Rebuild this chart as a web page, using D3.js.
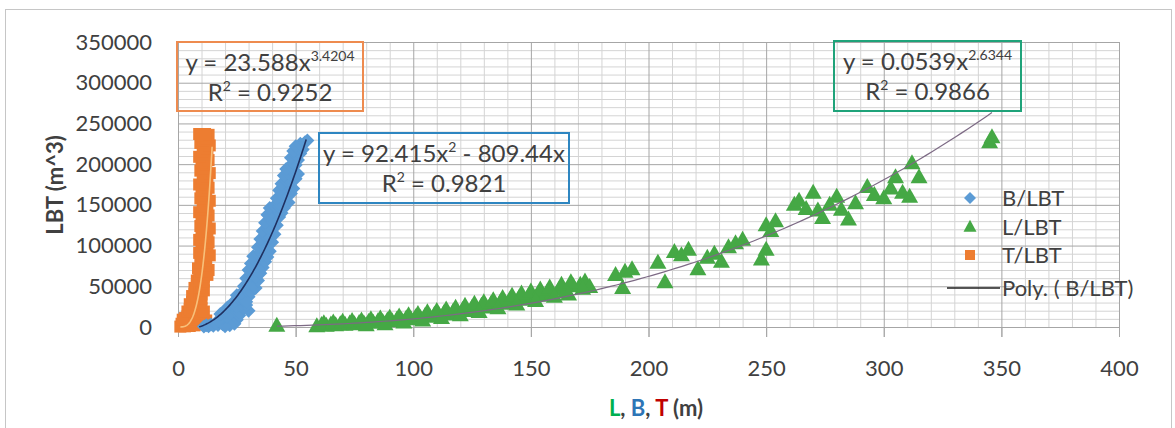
<!DOCTYPE html>
<html>
<head>
<meta charset="utf-8">
<script src="https://cdn.jsdelivr.net/npm/d3@7"></script>
<style>
  html, body { margin: 0; padding: 0; background: #fff; }
  svg { display: block; font-family: Lato, "Open Sans", sans-serif; }
</style>
</head>
<body>
<svg id="chart" width="1175" height="428"></svg>
<script>
// Axis ticks
const xTicks = [0, 50, 100, 150, 200, 250, 300, 350, 400];
const yTicks = [0, 50000, 100000, 150000, 200000, 250000, 300000, 350000];

// Legend entries
const legendNames = ["B/LBT", "L/LBT", "T/LBT", "Poly. ( B/LBT)"];

// Beam B (m) vs LBT (m^3)
const beamPoints = [
  [11,500],[12,2000],[13,800],[14,3000],[15,1500],[16,4500],[17,2500],[18,6000],[19,3500],
  [20,8000],[21,5000],[22,10000],[23,7000],[24,12000],[25,9000],[24,4000],[22,2000],[20,1000],
  [26,14000],[19,11000],[17,8000],[21,13000],
  [18,16000],[20,19000],[22,17000],[24,21000],[26,18000],[28,23000],[30,20000],[21,24000],
  [23,27000],[25,25000],[27,29000],[29,27000],[24,32000],[26,35000],[28,33000],[30,37000],
  [25,39000],[27,38000],[29,31000],
  [27,42000],[29,45000],[31,43000],[33,48000],[28,50000],[30,54000],[32,52000],[34,57000],
  [29,60000],[31,63000],[33,61000],[35,66000],[30,70000],[32,72000],[34,75000],[36,73000],
  [31,78000],[33,81000],[35,84000],[37,80000],[32,87000],[34,89000],[36,88000],[38,86000],
  [35,92000],[37,95000],[39,93000],[34,98000],[36,102000],[38,100000],[40,104000],[35,108000],
  [37,112000],[39,110000],[41,114000],[36,118000],[38,122000],[40,120000],[42,125000],[37,128000],
  [39,132000],[41,130000],[43,135000],[38,138000],[40,141000],[42,143000],[44,140000],[39,146000],
  [41,149000],[43,148000],[45,146000],
  [43,152000],[45,155000],[47,153000],[42,158000],[44,162000],[46,160000],[48,164000],[43,168000],
  [45,171000],[47,173000],[49,170000],[44,176000],[46,180000],[48,178000],[50,182000],[45,186000],
  [47,189000],[49,191000],[51,188000],[46,194000],[48,197000],[50,199000],
  [49,202000],[51,205000],[48,208000],[50,211000],[52,213000],[49,216000],[51,219000],[53,218000],
  [50,222000],[52,225000],[54,227000],[55,229000]
];

// Length L (m) vs LBT (m^3)
const lengthPoints = [
  [42,1500],[59,800],[61,2500],[63,1500],[65,3000],[67,2000],[69,3500],[71,2800],[73,4200],
  [75,3500],[77,5000],[79,4200],[81,6000],[83,5200],[85,7000],[87,6000],[89,8000],[91,7200],
  [93,9000],[95,8200],[97,10500],[99,9500],[101,12000],[103,11000],[105,13500],[107,12500],
  [109,15000],[111,14000],[113,17000],[115,15500],[117,19000],[119,17500],[121,21000],[123,19500],
  [125,23500],[127,21500],[129,26000],[131,24000],[133,28000],[135,26000],[137,30500],[139,28500],
  [141,33000],[143,31000],[145,35500],[147,33500],[149,38000],[151,36000],[153,40500],[155,38500],
  [157,43000],[159,41000],[162,46000],[165,44000],[168,50000],[171,52000],[173,56000],[175,49000],
  [62,4500],[66,5500],[70,6500],[74,7500],[78,8000],[82,9500],[86,10500],[90,11500],[94,13000],
  [98,14500],[102,16000],[106,18000],[110,19500],[114,21500],[118,23500],[122,26000],[126,28500],
  [130,30500],[134,33000],[138,35500],[142,38500],[146,41000],[150,43500],[154,46000],[158,48500],
  [163,52000],[167,55000],
  [80,2000],[88,3500],[96,5500],[104,8000],[112,11000],[120,14500],[128,18500],[136,23000],
  [144,27500],[152,32000],[160,37000],[166,40000],[172,47000],
  [186,64000],[189,48000],[190,68000],[193,71000],[204,79000],[207,55000],[211,92000],[214,88000],
  [217,95000],[221,71000],[225,85000],[228,90000],[231,80000],[234,98000],[237,103000],[240,107000],
  [248,83000],[250,95000],[250,125000],[252,118000],[254,130000],[262,150000],[264,155000],
  [267,145000],[270,165000],[272,143000],[274,134000],[277,150000],[280,160000],[282,144000],
  [285,132000],[288,152000],[293,172000],[296,162000],[300,158000],[303,170000],[305,184000],
  [308,165000],[311,160000],[312,201000],[315,184000],[345,227000],[346,233000]
];

// Draft T (m) vs LBT (m^3)
const draftPoints = [
  [1.0,500],[2.0,1500],[3.0,800],[4.0,2500],[5.0,1200],[6.0,3500],[7.0,2000],[8.0,4500],
  [9.0,3000],[10.0,6000],[11.0,4000],[12.0,8000],[1.5,4000],[2.5,6000],[3.5,5000],[4.5,8000],
  [5.5,7000],[6.5,10000],[7.5,9000],[8.5,12000],[9.5,11000],[10.5,14000],[3.0,11000],[4.0,13000],
  [5.0,15000],[6.0,16000],[7.0,14000],[8.0,17000],[2.0,9000],
  [4.0,19000],[5.0,22000],[6.0,20000],[7.0,24000],[8.0,21000],[9.0,26000],[10.0,23000],[11.0,19000],
  [5.0,28000],[6.0,31000],[7.0,29000],[8.0,33000],[9.0,30000],[10.0,35000],[6.0,38000],[7.0,41000],
  [8.0,39000],[9.0,43000],[10.0,40000],[11.0,45000],[7.0,48000],[8.0,51000],[9.0,49000],
  [10.0,53000],[11.0,56000],[8.0,57000],
  [9.0,60000],[11.0,62000],[12.5,64000],[10.0,68000],[13.0,70000],[8.5,72000],[11.5,75000],
  [9.5,79000],[12.0,82000],[10.5,85000],[13.5,88000],[9.0,91000],[11.0,94000],[12.5,97000],
  [10.0,100000],[13.0,104000],[9.0,107000],[11.5,110000],[10.0,114000],[12.5,117000],[13.5,121000],
  [9.5,124000],[11.0,127000],[12.0,131000],[10.0,134000],[13.0,137000],[9.0,141000],[11.5,144000],
  [10.5,148000],[12.5,151000],[13.5,155000],[9.5,158000],[11.0,161000],[12.0,165000],[10.0,168000],
  [13.0,171000],[9.0,175000],[11.5,178000],[10.5,182000],[12.5,185000],[13.5,189000],[9.5,192000],
  [11.0,195000],[12.0,199000],[10.0,202000],[13.0,205000],[9.0,209000],[11.5,212000],[10.5,216000],
  [12.5,219000],[13.5,223000],[9.5,226000],[11.0,229000],[12.0,232000],[10.0,235000],[13.0,236000],
  [9.0,237000],[11.5,237000]
];

// Fitted trendlines, as printed in the equation labels
const polyB = { a: 92.415, b: -809.44, r2: "0.9821", from: 9, to: 54.5 };
const powerL = { a: 0.0539, k: 2.6344, r2: "0.9866", from: 42, to: 346 };
const powerT = { a: 23.588, k: 3.4204, r2: "0.9252", from: 1, to: 14.5 };

const colors = { beam: "#5b9bd5", length: "#45a845", draft: "#ed7d31" };

const svg = d3.select("#chart");
const W = 1175, H = 428;
const plot = { left: 178, right: 1119, top: 42, bottom: 327 };

const x = d3.scaleLinear().domain([0, 400]).range([plot.left, plot.right]);
const y = d3.scaleLinear().domain([0, 350000]).range([plot.bottom, plot.top]);

svg.append("rect").attr("width", W).attr("height", H).attr("fill", "#fff");
svg.append("rect")
  .attr("x", 5.5).attr("y", 9.5).attr("width", 1166).attr("height", 440)
  .attr("fill", "none").attr("stroke", "#c6c6c6");

// Minor and major gridlines
const minorX = d3.range(0, 401, 10).filter(v => v % 50 !== 0);
const minorY = d3.range(0, 350001, 10000).filter(v => v % 50000 !== 0);
const plotH = plot.bottom - plot.top;
const plotW = plot.right - plot.left;

function gridStyle(g, color) {
  g.select(".domain").remove();
  g.selectAll("line").attr("stroke", color).attr("stroke-width", 1);
  g.selectAll("text").remove();
}
svg.append("g").attr("transform", `translate(0,${plot.bottom})`)
  .call(d3.axisBottom(x).tickValues(minorX).tickSize(-plotH).tickFormat(""))
  .call(g => gridStyle(g, "#d4d4d4"));
svg.append("g").attr("transform", `translate(${plot.left},0)`)
  .call(d3.axisLeft(y).tickValues(minorY).tickSize(-plotW).tickFormat(""))
  .call(g => gridStyle(g, "#d4d4d4"));
svg.append("g").attr("transform", `translate(${plot.left},0)`)
  .call(d3.axisLeft(y).tickValues(yTicks).tickSize(-plotW).tickFormat(""))
  .call(g => gridStyle(g, "#a6a6a6"));
svg.append("g").attr("transform", `translate(0,${plot.top})`)
  .call(d3.axisBottom(x).tickValues(xTicks).tickSize(plotH + 10).tickFormat(""))
  .call(g => gridStyle(g, "#a6a6a6"));

// Axes with labels
const xAxis = svg.append("g").attr("transform", `translate(0,${plot.bottom})`)
  .call(d3.axisBottom(x).tickValues(xTicks).tickSize(10).tickSizeOuter(0).tickPadding(23).tickFormat(d3.format("d")));
xAxis.select(".domain").attr("stroke", "#a6a6a6");
xAxis.selectAll("line").attr("stroke", "#a6a6a6");
xAxis.selectAll("text").attr("font-size", 22).attr("fill", "#404040").attr("font-family", "Lato, sans-serif");

const yAxis = svg.append("g").attr("transform", `translate(${plot.left},0)`)
  .call(d3.axisLeft(y).tickValues(yTicks).tickSize(0).tickPadding(26).tickFormat(d3.format("d")));
yAxis.select(".domain").attr("stroke", "#a6a6a6");
yAxis.selectAll("text").attr("font-size", 22).attr("fill", "#404040").attr("font-family", "Lato, sans-serif");

// Marker shapes
const diamond = s => `M0,${-s}L${s},0L0,${s}L${-s},0Z`;
const triangle = (w, h) => `M0,${-h * 0.6}L${w / 2},${h * 0.4}L${-w / 2},${h * 0.4}Z`;
const square = s => `M${-s},${-s}H${s}V${s}H${-s}Z`;

// Data series
svg.append("g").selectAll("path").data(draftPoints).join("path")
  .attr("d", square(6)).attr("fill", colors.draft)
  .attr("transform", d => `translate(${x(d[0])},${y(d[1])})`);
svg.append("g").selectAll("path").data(beamPoints).join("path")
  .attr("d", diamond(7)).attr("fill", colors.beam)
  .attr("transform", d => `translate(${x(d[0])},${y(d[1])})`);
svg.append("g").selectAll("path").data(lengthPoints).join("path")
  .attr("d", triangle(17, 15)).attr("fill", colors.length)
  .attr("transform", d => `translate(${x(d[0])},${y(d[1])})`);

// Trendlines
const line = d3.line().x(d => x(d[0])).y(d => y(d[1]));
function curve(fn, from, to, n) {
  return d3.range(n + 1).map(i => { const v = from + (to - from) * i / n; return [v, fn(v)]; });
}
svg.append("path")
  .attr("d", line(curve(v => powerT.a * Math.pow(v, powerT.k), powerT.from, powerT.to, 80)))
  .attr("fill", "none").attr("stroke", "#f8c07a").attr("stroke-width", 1.6);
svg.append("path")
  .attr("d", line(curve(v => powerL.a * Math.pow(v, powerL.k), powerL.from, powerL.to, 120)))
  .attr("fill", "none").attr("stroke", "#7d6a85").attr("stroke-width", 1.2);
svg.append("path")
  .attr("d", line(curve(v => polyB.a * v * v + polyB.b * v, polyB.from, polyB.to, 80)))
  .attr("fill", "none").attr("stroke", "#1f3060").attr("stroke-width", 1.6);

// Equation labels
function eqBox(box, color, line1, sup, tail, r2) {
  const g = svg.append("g");
  g.append("rect").attr("x", box[0]).attr("y", box[1]).attr("width", box[2]).attr("height", box[3])
    .attr("fill", "none").attr("stroke", color).attr("stroke-width", 2);
  const cx = box[0] + box[2] / 2;
  const t1 = g.append("text").attr("x", cx).attr("y", box[1] + 29).attr("text-anchor", "middle")
    .attr("font-size", 24).attr("fill", "#404040");
  t1.append("tspan").text(line1);
  t1.append("tspan").attr("font-size", 14).attr("dy", -10).text(sup);
  if (tail) t1.append("tspan").attr("dy", 10).text(tail);
  const t2 = g.append("text").attr("x", cx).attr("y", box[1] + 59).attr("text-anchor", "middle")
    .attr("font-size", 24).attr("fill", "#404040");
  t2.append("tspan").text("R");
  t2.append("tspan").attr("font-size", 14).attr("dy", -10).text("2");
  t2.append("tspan").attr("dy", 10).text(" = " + r2);
}
eqBox([177, 42, 186, 69], "#ee8b4f", `y = ${powerT.a}x`, `${powerT.k}`, null, powerT.r2);
eqBox([319, 133, 250, 70], "#2e86c1", `y = ${polyB.a}x`, "2", ` - ${-polyB.b}x`, polyB.r2);
eqBox([834, 41, 187, 70], "#1fa37a", `y = ${powerL.a}x`, `${powerL.k}`, null, powerL.r2);

// Legend
const legend = svg.append("g").attr("font-size", 22).attr("fill", "#404040");
const rows = [198, 227, 255, 288];
legend.append("path").attr("d", diamond(6)).attr("fill", colors.beam)
  .attr("transform", `translate(970,${rows[0]})`);
legend.append("path").attr("d", triangle(13, 12)).attr("fill", colors.length)
  .attr("transform", `translate(970,${rows[1]})`);
legend.append("path").attr("d", square(5)).attr("fill", colors.draft)
  .attr("transform", `translate(970,${rows[2]})`);
legend.append("line").attr("x1", 947).attr("x2", 1000).attr("y1", rows[3]).attr("y2", rows[3])
  .attr("stroke", "#1f1f1f").attr("stroke-width", 1.5);
legendNames.forEach((n, i) => {
  legend.append("text").attr("x", 1002).attr("y", rows[i] + 8).attr("fill", "#404040").text(n);
});

// Axis titles
svg.append("text")
  .attr("transform", `translate(63,185) rotate(-90)`)
  .attr("text-anchor", "middle").attr("font-size", 22).attr("font-weight", "bold").attr("fill", "#404040")
  .text("LBT (m^3)");
const xt = svg.append("text").attr("x", 656).attr("y", 416).attr("text-anchor", "middle")
  .attr("font-size", 22).attr("font-weight", "bold").attr("fill", "#404040");
xt.append("tspan").attr("fill", "#00b050").text("L");
xt.append("tspan").text(", ");
xt.append("tspan").attr("fill", "#2e75b6").text("B");
xt.append("tspan").text(", ");
xt.append("tspan").attr("fill", "#c00000").text("T");
xt.append("tspan").text(" (m)");
</script>
</body>
</html>
